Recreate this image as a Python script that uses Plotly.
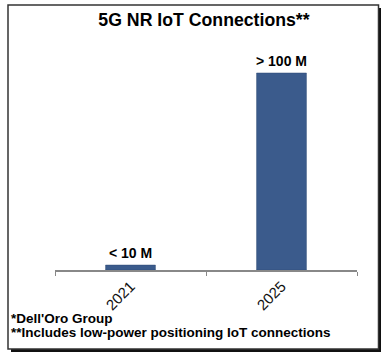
import plotly.graph_objects as go

categories = ["2021", "2025"]
values = [2.5, 100]
bar_labels = ["&lt; 10 M", "&gt; 100 M"]
title_text = "5G NR IoT Connections**"
footnotes = ["*Dell'Oro Group", "**Includes low-power positioning IoT connections"]

W, H = 391, 360
L, R, T, B = 55, 34, 40, 90
PW, PH = W - L - R, H - T - B


def px(x):
    return (x - L) / PW


def py(y):
    return (H - B - y) / PH


FONT = "Liberation Sans, Arial, sans-serif"
BAR = "#3B5B8C"

fig = go.Figure(go.Bar(
    x=categories, y=values,
    marker=dict(color=BAR, line=dict(color="#2E4A75", width=0.5)),
    width=0.33,
))

for i, (v, t) in enumerate(zip(values, bar_labels)):
    fig.add_annotation(x=i, y=v, xref="x", yref="y", text=f"<b>{t}</b>", showarrow=False,
                       yanchor="bottom", yshift=2,
                       font=dict(family=FONT, size=14, color="#000"))

fig.add_annotation(xref="paper", yref="paper", x=px(9), y=py(318),
                   text=f"<b>{footnotes[0]}</b>", showarrow=False,
                   xanchor="left", yanchor="middle",
                   font=dict(family=FONT, size=13.5, color="#000"))
fig.add_annotation(xref="paper", yref="paper", x=px(9), y=py(332.5),
                   text=f"<b>{footnotes[1]}</b>", showarrow=False,
                   xanchor="left", yanchor="middle",
                   font=dict(family=FONT, size=13.5, color="#000"))

# shadow and frame
fig.add_shape(type="rect", xref="paper", yref="paper", layer="below",
              x0=px(11), x1=px(381), y0=py(8), y1=py(352),
              fillcolor="#111", line=dict(width=0))
fig.add_shape(type="rect", xref="paper", yref="paper", layer="below",
              x0=px(8), x1=px(378.5), y0=py(5), y1=py(349),
              fillcolor="white", line=dict(color="#333", width=1.5))

fig.update_layout(
    width=W, height=H, autosize=False,
    margin=dict(l=L, r=R, t=T, b=B),
    paper_bgcolor="white", plot_bgcolor="white",
    showlegend=False,
    title=dict(text=f"<b>{title_text}</b>", xref="paper", x=px(204), xanchor="center",
               yref="container", y=1 - 20 / H, yanchor="middle",
               font=dict(family=FONT, size=17.7, color="#000")),
    xaxis=dict(type="category", range=[-0.5, 1.5], tickson="boundaries",
               ticks="outside", ticklen=4, tickcolor="#888", tickwidth=1,
               showline=True, linecolor="#888", linewidth=1.5,
               tickangle=-45, showgrid=False,
               tickfont=dict(family=FONT, size=15, color="#111")),
    yaxis=dict(range=[0, 116.75], visible=False, showgrid=False),
)

fig.write_html("out.html", config={"displayModeBar": False},
               post_script="document.body.style.margin='0';")
